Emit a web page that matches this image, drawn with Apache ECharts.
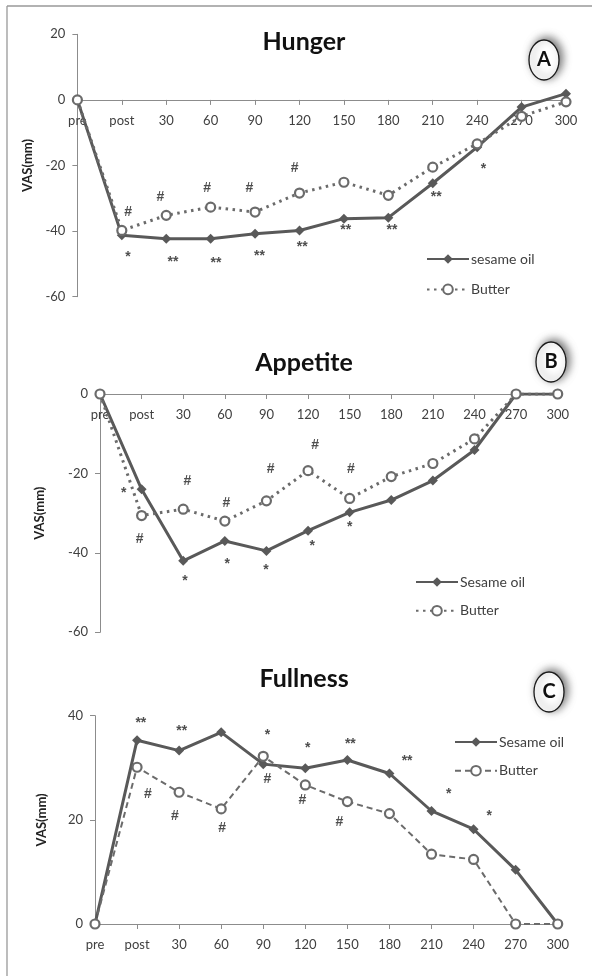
<!DOCTYPE html>
<html><head><meta charset="utf-8">
<script src="https://cdn.jsdelivr.net/npm/echarts@6/dist/echarts.min.js"></script>
<style>html,body{margin:0;padding:0;background:#fff}#c{width:592px;height:976px}</style>
</head><body><div id="c"></div><script>
const categories = ['pre','post','30','60','90','120','150','180','210','240','270','300'];

const hungerSesame = [0,-41.3,-42.3,-42.3,-40.8,-39.8,-36.2,-35.9,-25.4,-14.4,-2.2,1.9];
const hungerButter = [0,-39.8,-35.2,-32.7,-34.2,-28.4,-25.1,-29.1,-20.5,-13.4,-5,-0.6];
const appetiteSesame = [0,-24,-42,-37,-39.5,-34.4,-29.8,-26.7,-21.8,-14.1,0,0];
const appetiteButter = [0,-30.6,-29,-32,-26.9,-19.3,-26.3,-20.8,-17.5,-11.3,0,0];
const fullnessSesame = [0,35.3,33.3,36.8,30.7,29.9,31.5,28.9,21.7,18.2,10.4,0];
const fullnessButter = [0,30.1,25.3,22.1,32.2,26.7,23.5,21.2,13.4,12.4,0,0];

// significance marks: [category position, VAS value, mark]
const hungerMarks = [
  [1.14,-34.3,'#'],[1.87,-29.7,'#'],[2.92,-27,'#'],[3.87,-27,'#'],[4.89,-20.9,'#'],
  [1.14,-48,'*'],[2.15,-49.5,'**'],[3.12,-49.8,'**'],[4.1,-47.7,'**'],[5.06,-45,'**'],
  [6.04,-39.8,'**'],[7.08,-39.8,'**'],[8.08,-29.7,'**'],[9.14,-21.2,'*']
];
const appetiteMarks = [
  [0.57,-25,'*'],[0.95,-36.6,'#'],[2.1,-21.9,'#'],[2.04,-47,'*'],[3.04,-27.4,'#'],
  [3.06,-42.8,'*'],[4.1,-18.9,'#'],[3.99,-44.3,'*'],[5.17,-12.8,'#'],[5.1,-38.3,'*'],
  [6.03,-18.9,'#'],[6.0,-33.4,'*']
];
const fullnessMarks = [
  [1.09,38.5,'**'],[2.06,37,'**'],[3.07,40.4,'**'],[4.1,36.3,'*'],[5.06,33.7,'*'],
  [6.07,34.5,'**'],[7.42,31.3,'**'],[8.41,25,'*'],[9.37,20.8,'*'],
  [1.26,24.9,'#'],[1.9,20.8,'#'],[3.02,18.4,'#'],[4.1,27.8,'#'],[4.93,23.8,'#'],[5.81,19.5,'#']
];

const yTicksA = {min:-60,max:20,interval:20};
const yTicksB = {min:-60,max:0,interval:20};
const yTicksC = {min:0,max:40,interval:20};
const yTicks = [yTicksA, yTicksB, yTicksC];

const FONT = 'Lato, "Open Sans", sans-serif';
const AX = '#8c8c8c';
const TXT = '#404040';
const H = 976;

const grids = [
  {left:77.4, right:26, top:34.3, bottom:679.3},
  {left:100, right:34.3, top:394, bottom:343.7},
  {left:95, right:34.3, top:715.7, bottom:52}
];

// category axis drawn along the zero line of its value axis
function catAxis(g){
  const t = yTicks[g], gr = grids[g];
  const h = H - gr.top - gr.bottom;
  const zeroFromTop = h * t.max / (t.max - t.min);
  const atBottom = t.min === 0;
  return {type:'category', gridIndex:g, data:categories, boundaryGap:false,
    position: atBottom ? 'bottom' : 'top',
    offset: atBottom ? 0 : -zeroFromTop,
    axisLine:{show:true, onZero:false, lineStyle:{color:AX, width:1}},
    axisTick:{show:true, alignWithLabel:true, length:5, inside:!atBottom, lineStyle:{color:AX}},
    axisLabel:{color:TXT, fontSize:13, fontFamily:FONT, margin:14, interval:0, inside:!atBottom},
    splitLine:{show:false}};
}
function hidAxis(g){
  return {type:'value', gridIndex:g, min:0, max:11, show:false, position:'bottom',
    axisLine:{onZero:false}};
}
function valAxis(g, t, gap){
  return {type:'value', gridIndex:g, min:t.min, max:t.max, interval:t.interval,
    name:'VAS(mm)', nameLocation:'middle', nameGap:gap,
    nameTextStyle:{fontFamily:FONT, fontWeight:'bold', fontSize:13, color:'#222'},
    axisLine:{show:true, onZero:false, lineStyle:{color:AX}},
    axisTick:{show:true, length:5, lineStyle:{color:AX}},
    axisLabel:{color:TXT, fontSize:13, fontFamily:FONT, margin:12},
    splitLine:{show:false}};
}
function sesame(name, g, data){
  return {type:'line', name:name, xAxisIndex:2*g, yAxisIndex:g, data:data,
    symbol:'diamond', symbolSize:10, showSymbol:true,
    lineStyle:{color:'#595959', width:3},
    itemStyle:{color:'#595959'}, z:3};
}
function butter(name, g, data, dash){
  return {type:'line', name:name, xAxisIndex:2*g, yAxisIndex:g, data:data,
    symbol:'circle', symbolSize:9, showSymbol:true,
    lineStyle:{color:'#6b6b6b', width:dash==='dot'?3:2, type:dash==='dot'?[2.5,4.5]:[6,4]},
    itemStyle:{color:'#ffffff', borderColor:'#6b6b6b', borderWidth:2.2}, z:4};
}
function marks(g, data){
  return {type:'scatter', xAxisIndex:2*g+1, yAxisIndex:g, data:data,
    symbolSize:1, itemStyle:{color:'rgba(0,0,0,0)'}, silent:true, z:5,
    label:{show:true, position:'inside', formatter:p=>p.data[2],
      fontFamily:'"Liberation Sans", sans-serif', fontWeight:'bold', fontSize:14, color:'#222'}};
}
function legend(names, left, top, gap){
  return {data:names, orient:'vertical', left:left, top:top, itemWidth:42, itemHeight:12,
    itemGap:gap, selectedMode:false,
    textStyle:{fontFamily:FONT, fontSize:14, color:TXT, padding:[0,0,0,-3]}};
}
function badge(letter, cx, cy){
  return {type:'group', children:[
    {type:'ellipse', shape:{cx:cx, cy:cy, rx:15, ry:20},
      style:{fill:'#fff', stroke:'#1a1a1a', lineWidth:1.3,
        shadowBlur:8, shadowColor:'rgba(0,0,0,0.55)', shadowOffsetX:3, shadowOffsetY:-2}},
    {type:'text', x:cx, y:cy, style:{text:letter, fill:'#111', font:'bold 20px '+FONT,
      textAlign:'center', textVerticalAlign:'middle'}}
  ]};
}

const chart = echarts.init(document.getElementById('c'), null, {renderer:'canvas'});
chart.setOption({
  animation:false,
  backgroundColor:'#fff',
  title:[
    {text:'Hunger', left:299, top:37, textAlign:'center', textVerticalAlign:'middle'},
    {text:'Appetite', left:299, top:358, textAlign:'center', textVerticalAlign:'middle'},
    {text:'Fullness', left:299, top:674, textAlign:'center', textVerticalAlign:'middle'}
  ].map(t=>Object.assign(t,{textStyle:{fontFamily:FONT, fontWeight:'bold', fontSize:25, color:'#111'}})),
  grid:grids,
  xAxis:[catAxis(0), hidAxis(0), catAxis(1), hidAxis(1), catAxis(2), hidAxis(2)],
  yAxis:[valAxis(0,yTicksA,40), valAxis(1,yTicksB,54), valAxis(2,yTicksC,47)],
  legend:[
    legend(['sesame oil','Butter'], 421, 247, 16.4),
    legend(['Sesame oil','Butter '], 410, 570, 14.7),
    legend(['Sesame oil ','Butter  '], 449, 730, 14.7)
  ],
  series:[
    sesame('sesame oil',0,hungerSesame), butter('Butter',0,hungerButter,'dot'), marks(0,hungerMarks),
    sesame('Sesame oil',1,appetiteSesame), butter('Butter ',1,appetiteButter,'dot'), marks(1,appetiteMarks),
    sesame('Sesame oil ',2,fullnessSesame), butter('Butter  ',2,fullnessButter,'dash'), marks(2,fullnessMarks)
  ],
  graphic:[
    {type:'line', shape:{x1:7, y1:6, x2:592, y2:6}, style:{stroke:'#999', lineWidth:1.3}},
    {type:'line', shape:{x1:7, y1:6, x2:7, y2:976}, style:{stroke:'#999', lineWidth:1.3}},
    badge('A', 544, 60), badge('B', 551, 362), badge('C', 549, 692)
  ]
});
</script></body></html>
